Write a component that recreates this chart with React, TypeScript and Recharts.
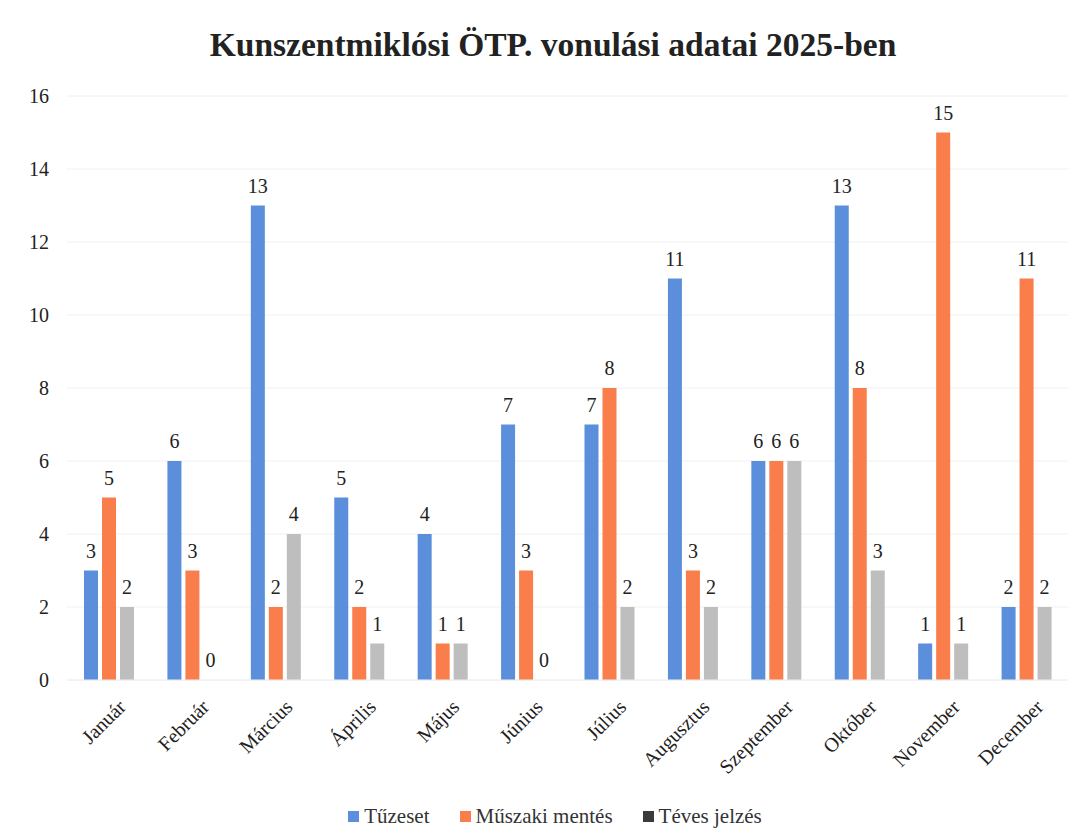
import React from "react";
import { BarChart, Bar, XAxis, YAxis, CartesianGrid, Legend, LabelList } from "recharts";

const months = ["Január", "Február", "Március", "Április", "Május", "Június", "Július", "Augusztus", "Szeptember", "Október", "November", "December"];
const tuzeset = [3, 6, 13, 5, 4, 7, 7, 11, 6, 13, 1, 2];
const muszaki = [5, 3, 2, 2, 1, 3, 8, 3, 6, 8, 15, 11];
const teves = [2, 0, 4, 1, 1, 0, 2, 2, 6, 3, 1, 2];
const yTicks = [0, 2, 4, 6, 8, 10, 12, 14, 16];

const data = months.map((m, i) => ({ month: m, t: tuzeset[i], m: muszaki[i], v: teves[i] }));

const FONT = "'Liberation Serif', 'Times New Roman', serif";

const XTick = (props: any) => {
  const { x, y, payload } = props;
  return (
    <g transform={`translate(${x + 8},${y + 10})`}>
      <text textAnchor="end" dominantBaseline="hanging" transform="rotate(-45)" fontFamily={FONT} fontSize={20} fill="#222">
        {payload.value}
      </text>
    </g>
  );
};

const YTick = (props: any) => {
  const { x, y, payload } = props;
  return (
    <text x={x - 10} y={y} dy={7} textAnchor="end" fontFamily={FONT} fontSize={20} fill="#222">
      {payload.value}
    </text>
  );
};

const BarLabel = (props: any) => {
  const { x, y, width, value } = props;
  return (
    <text x={Number(x) + Number(width) / 2} y={Number(y) - 13} textAnchor="middle" fontFamily={FONT} fontSize={20} fill="#222">
      {value}
    </text>
  );
};

const BarShape = (props: any) => {
  const { x, y, width, height, fill, value } = props;
  const v = Array.isArray(value) ? value[1] - value[0] : value;
  if (!v) return <g />;
  return <rect x={x} y={y} width={width} height={height} fill={fill} />;
};

const legendItems = [
  { label: "Tűzeset", color: "#5B8FDC" },
  { label: "Műszaki mentés", color: "#FA7D4C" },
  { label: "Téves jelzés", color: "#3a3a3a" },
];

const LegendContent = () => (
  <div style={{ display: "flex", justifyContent: "center", fontFamily: FONT, fontSize: 21, color: "#333", paddingLeft: 34 }}>
    {legendItems.map((it) => (
      <span key={it.label} style={{ display: "inline-flex", alignItems: "center", margin: "0 15px" }}>
        <span style={{ display: "inline-block", width: 11, height: 11, background: it.color, marginRight: 5 }} />
        {it.label}
      </span>
    ))}
  </div>
);

const minSize = (value: any) => (value === 0 ? 0.01 : 0);

export default function App() {
  return (
    <div style={{ position: "relative", width: 1075, height: 821, background: "#fff" }}>
      <div
        style={{
          position: "absolute",
          top: 18,
          left: 0,
          width: 1090,
          textAlign: "center",
          fontFamily: FONT,
          fontWeight: "bold",
          fontSize: 33.5,
          color: "#222",
        }}
      >
        Kunszentmiklósi ÖTP. vonulási adatai 2025-ben
      </div>
      <BarChart
        width={1075}
        height={821}
        data={data}
        margin={{ top: 88, right: 15, bottom: 8, left: 0 }}
        barSize={14}
        barGap={4}
      >
        <CartesianGrid vertical={false} stroke="#f0f0f0" />
        <XAxis
          dataKey="month"
          tick={<XTick />}
          tickLine={false}
          axisLine={{ stroke: "#f0f0f0" }}
          height={116}
          interval={0}
        />
        <YAxis
          domain={[0, 16]}
          ticks={yTicks}
          width={59}
          tickLine={false}
          axisLine={false}
          tick={<YTick />}
        />
        <Legend verticalAlign="bottom" content={<LegendContent />} wrapperStyle={{ bottom: 0 }} />
        <Bar dataKey="t" fill="#5B8FDC" isAnimationActive={false} minPointSize={minSize} shape={<BarShape />}>
          <LabelList dataKey="t" content={<BarLabel />} />
        </Bar>
        <Bar dataKey="m" fill="#FA7D4C" isAnimationActive={false} minPointSize={minSize} shape={<BarShape />}>
          <LabelList dataKey="m" content={<BarLabel />} />
        </Bar>
        <Bar dataKey="v" fill="#BEBEBE" isAnimationActive={false} minPointSize={minSize} shape={<BarShape />}>
          <LabelList dataKey="v" content={<BarLabel />} />
        </Bar>
      </BarChart>
    </div>
  );
}
